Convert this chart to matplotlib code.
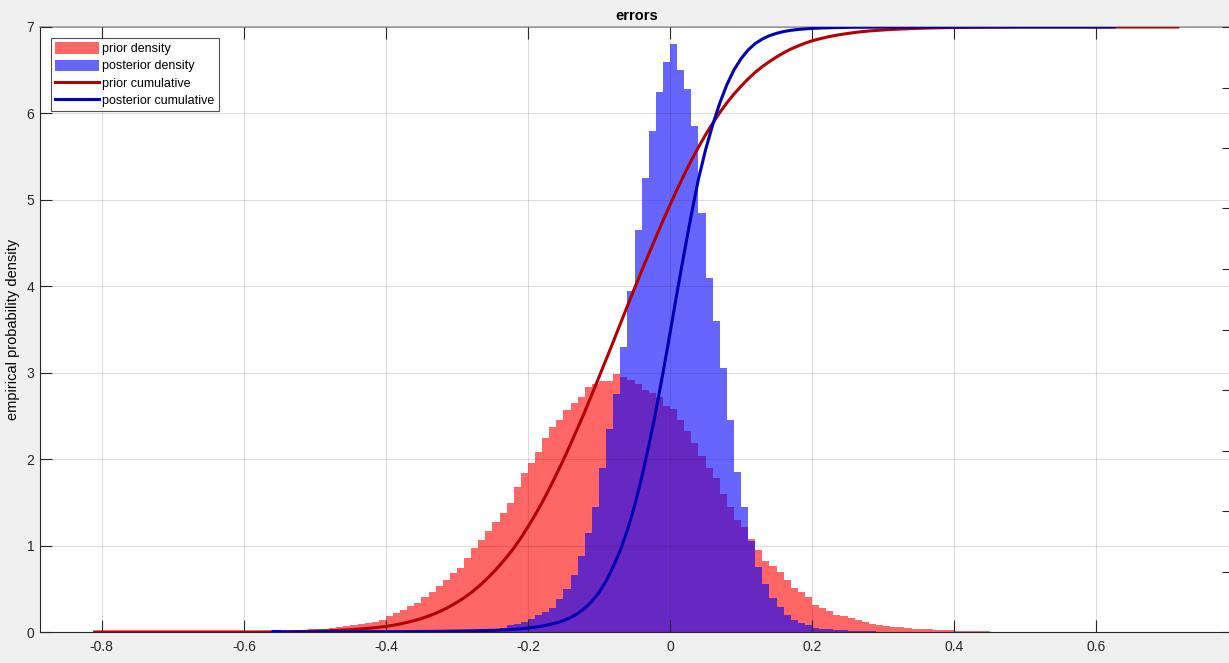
#!/usr/bin/env python3
"""
Prior vs posterior error histograms with their empirical cumulative curves.
"""

import numpy as np
import matplotlib
matplotlib.use("Agg")
import matplotlib.pyplot as plt
from matplotlib.patches import Patch
from matplotlib.lines import Line2D

plt.rcParams["font.family"] = ["Liberation Sans", "DejaVu Sans"]
plt.rcParams["axes.unicode_minus"] = False

# histogram bins (width 0.01)
bin_width = 0.01
prior_start = -0.60
prior_density = [
    0.0, 0.005, 0.005, 0.01, 0.01, 0.015, 0.015, 0.02, 0.025, 0.03,
    0.035, 0.04, 0.05, 0.06, 0.07, 0.08, 0.09, 0.10, 0.12, 0.14,
    0.19, 0.22, 0.26, 0.30, 0.34, 0.40, 0.46, 0.53, 0.60, 0.68,
    0.74, 0.86, 0.97, 1.07, 1.17, 1.27, 1.38, 1.49, 1.68, 1.84,
    1.96, 2.08, 2.25, 2.37, 2.45, 2.57, 2.65, 2.72, 2.83, 2.87,
    2.90, 2.90, 2.98, 2.95, 2.92, 2.87, 2.80, 2.76, 2.72, 2.62,
    2.58, 2.45, 2.33, 2.19, 2.04, 1.90, 1.78, 1.60, 1.45, 1.30,
    1.22, 1.08, 0.95, 0.82, 0.76, 0.70, 0.60, 0.51, 0.46, 0.40,
    0.31, 0.28, 0.24, 0.20, 0.18, 0.16, 0.14, 0.11, 0.09, 0.08,
    0.07, 0.06, 0.055, 0.05, 0.04, 0.035, 0.03, 0.025, 0.02, 0.02,
    0.015, 0.015, 0.015, 0.01, 0.01, 0.005, 0.005, 0.005, 0.005, 0.0,
]

post_start = -0.56
post_density = [
    0.002, 0.002, 0.002, 0.003, 0.003, 0.003, 0.003, 0.003, 0.003, 0.004,
    0.004, 0.004, 0.004, 0.004, 0.004, 0.004,
    0.005, 0.005, 0.006, 0.008, 0.01, 0.01, 0.012, 0.013, 0.015, 0.017,
    0.02, 0.02, 0.025, 0.028, 0.03, 0.04, 0.05, 0.08, 0.09, 0.11,
    0.15, 0.20, 0.23, 0.28, 0.38, 0.50, 0.66, 0.88, 1.15, 1.45,
    1.90, 2.35, 2.75, 3.30, 3.95, 4.65, 5.25, 5.80, 6.25, 6.60,
    6.80, 6.50, 6.28, 5.85, 4.85, 4.10, 3.60, 3.05, 2.45, 1.85,
    1.45, 1.05, 0.75, 0.55, 0.39, 0.29, 0.20, 0.14, 0.10, 0.08,
    0.05, 0.04, 0.035, 0.025, 0.02, 0.012, 0.01, 0.008, 0.006, 0.005,
    0.002, 0.002, 0.002, 0.002, 0.002, 0.002, 0.002, 0.002, 0.002, 0.002,
]

# sample range (where the empirical cdf starts / ends)
prior_range = (-0.81, 0.715)
post_range = (-0.55, 0.625)

x_ticks = [-0.8, -0.6, -0.4, -0.2, 0, 0.2, 0.4, 0.6]
y_ticks = [0, 1, 2, 3, 4, 5, 6, 7]


def edges_for(start, vals):
    return start + bin_width * np.arange(len(vals) + 1)


def cdf_curve(start, vals, rng):
    e = edges_for(start, vals)
    c = np.concatenate([[0.0], np.cumsum(vals)])
    c = c / c[-1]
    x = np.concatenate([[rng[0]], e, [rng[1]]])
    y = np.concatenate([[0.0], c, [1.0]])
    return x, y


W, H = 1229, 663
fig = plt.figure(figsize=(W / 100, H / 100), dpi=100, facecolor="#f0f0f0")
left, right, top, bottom = 40, 1234, 27, 632
ax = fig.add_axes([left / W, 1 - bottom / H, (right - left) / W, (bottom - top) / H])
ax.set_facecolor("white")

pe = edges_for(prior_start, prior_density)
qe = edges_for(post_start, post_density)
ax.stairs(prior_density, pe, fill=True, color=(1, 0, 0), alpha=0.6, linewidth=0)
ax.stairs(post_density, qe, fill=True, color=(0, 0, 1), alpha=0.6, linewidth=0)

ax.set_xlim(-0.887, 0.794)
ax.set_ylim(0, 7)
ax.set_xticks(x_ticks)
ax.set_xticklabels([f"{v:g}" for v in x_ticks])
ax.set_yticks(y_ticks)
ax.set_yticklabels([str(v) for v in y_ticks])

dark = (0.15, 0.15, 0.15)
ax.tick_params(axis="both", direction="in", length=8.6, width=0.8, colors=dark,
               labelsize=10, top=True, right=False)
ax.tick_params(axis="x", pad=6)
ax.tick_params(axis="y", pad=4)
ax.grid(True, color=dark, alpha=0.15, linewidth=0.8)
ax.set_axisbelow(False)
for s in ["left", "bottom"]:
    ax.spines[s].set_color(dark)
    ax.spines[s].set_linewidth(0.8)
ax.spines["top"].set_color("#a0a0a0")
ax.spines["top"].set_linewidth(1.2)
ax.spines["right"].set_visible(False)

ax.set_ylabel("empirical probability density", fontsize=10.5, color="black")
ax.yaxis.set_label_coords(-0.0168, 0.5)
ax.set_title("errors", fontsize=10.5, fontweight="bold", pad=5)

# cumulative curves on the right axis
ax2 = ax.twinx()
ax2.set_ylim(0, 1)
ax2.set_yticks(np.linspace(0, 1, 11))
ax2.set_yticklabels([])
ax2.tick_params(axis="y", direction="in", length=8.6, width=0.8, colors=dark)
for s in ax2.spines.values():
    s.set_visible(False)

px, py = cdf_curve(prior_start, prior_density, prior_range)
qx, qy = cdf_curve(post_start, post_density, post_range)
ax2.plot(px, py, color=(0.7, 0, 0), linewidth=2.2)
ax2.plot(qx, qy, color=(0, 0, 0.7), linewidth=2.2)

handles = [
    Patch(facecolor=(1, 0, 0), alpha=0.6, edgecolor="none"),
    Patch(facecolor=(0, 0, 1), alpha=0.6, edgecolor="none"),
    Line2D([], [], color=(0.7, 0, 0), linewidth=2.2),
    Line2D([], [], color=(0, 0, 0.7), linewidth=2.2),
]
labels = ["prior density", "posterior density", "prior cumulative", "posterior cumulative"]
leg = ax2.legend(handles, labels, loc="upper left",
                 bbox_to_anchor=(51 / W, 1 - 38 / H), bbox_transform=fig.transFigure,
                 borderaxespad=0, fontsize=9, frameon=True, fancybox=False,
                 handlelength=3.45, handleheight=1.0, handletextpad=0.3,
                 labelspacing=0.35, borderpad=0.35)
leg.get_frame().set_edgecolor(dark)
leg.get_frame().set_linewidth(0.8)

fig.savefig("out.png", dpi=100, facecolor=fig.get_facecolor())
